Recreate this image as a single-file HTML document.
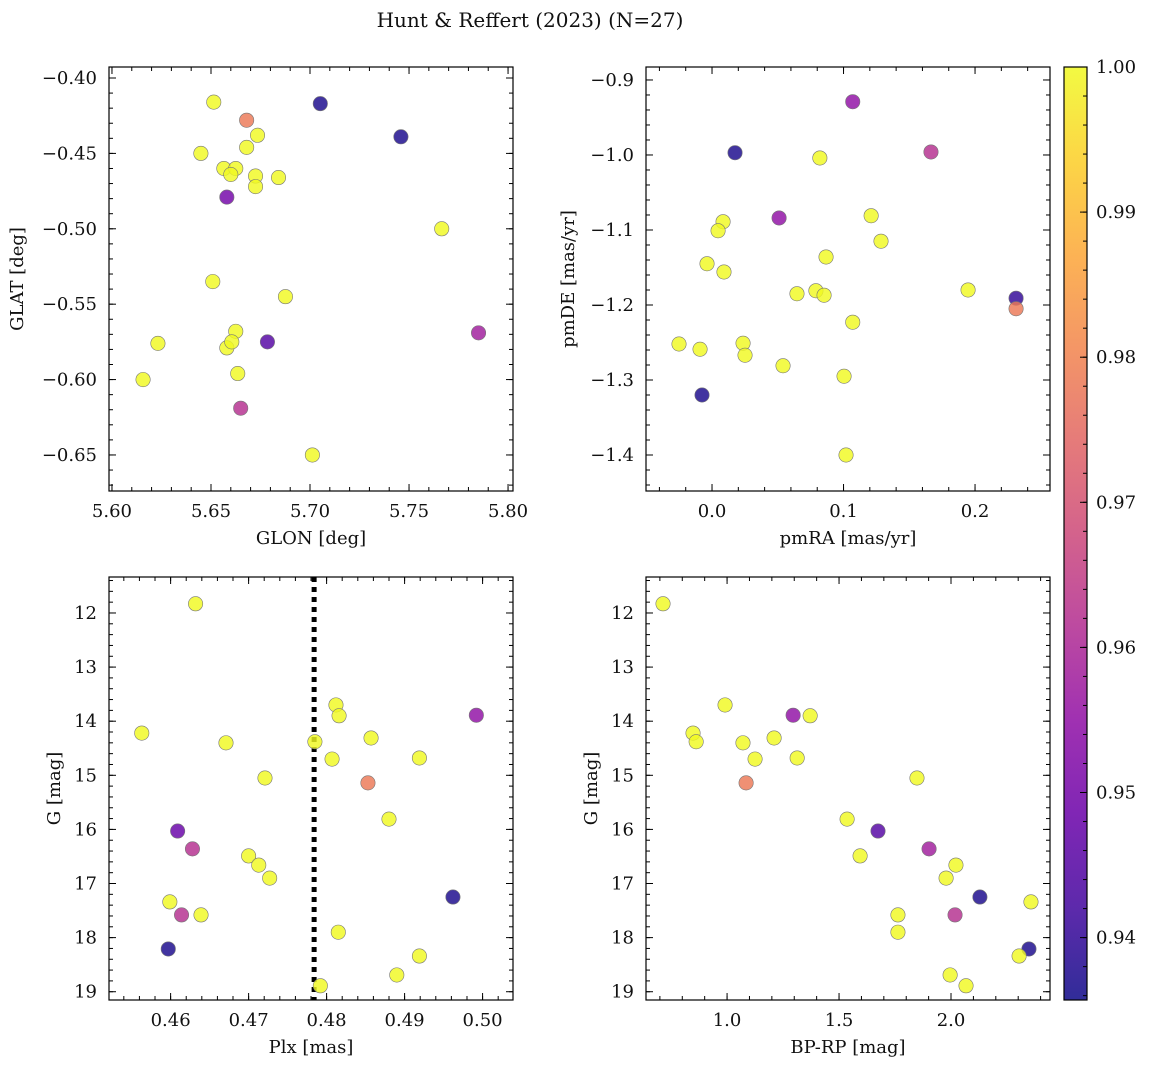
<!DOCTYPE html>
<html><head><meta charset="utf-8"><style>
html,body{margin:0;padding:0;background:#fff}
svg{display:block}
text{font-family:"DejaVu Serif","Liberation Serif",serif;fill:#111}
</style></head><body>
<svg id="fig" width="1149" height="1067" viewBox="0 0 1149 1067" xmlns="http://www.w3.org/2000/svg">
<defs>
<linearGradient id="plasma" x1="0" y1="1" x2="0" y2="0">
<stop offset="0" stop-color="#0d0887"/><stop offset="0.1" stop-color="#41049d"/><stop offset="0.2" stop-color="#6a00a8"/><stop offset="0.3" stop-color="#8f0da4"/><stop offset="0.4" stop-color="#b12a90"/><stop offset="0.5" stop-color="#cc4778"/><stop offset="0.6" stop-color="#e16462"/><stop offset="0.7" stop-color="#f2844b"/><stop offset="0.8" stop-color="#fca636"/><stop offset="0.9" stop-color="#fcce25"/><stop offset="1" stop-color="#f0f921"/>
</linearGradient>
</defs>
<text x="530" y="27" text-anchor="middle" font-size="20">Hunt &amp; Reffert (2023) (N=27)</text>
</svg>
<script>
// Panel 1: GLON vs GLAT
const glon1 = [5.6514,5.668,5.7052,5.7459,5.6735,5.668,5.6449,5.6565,5.6625,5.66,5.6725,5.6725,5.6841,5.658,5.7665,5.6509,5.6876,5.6625,5.6232,5.6785,5.658,5.6605,5.6635,5.6157,5.665,5.7012,5.7851];
const glat1 = [-0.416,-0.428,-0.417,-0.439,-0.438,-0.446,-0.450,-0.460,-0.460,-0.464,-0.465,-0.472,-0.466,-0.479,-0.500,-0.535,-0.545,-0.568,-0.576,-0.575,-0.579,-0.575,-0.596,-0.600,-0.619,-0.650,-0.569];
const prob1 = [1,0.978,0.937,0.937,1,1,1,1,1,1,1,1,1,0.95,1,1,1,1,1,0.945,1,1,1,1,0.962,1,0.958];
// Panel 2: pmRA vs pmDE
const pmra2 = [0.107,0.0175,0.1665,0.082,0.051,0.0084,0.0046,0.121,0.1285,0.0867,-0.0038,0.0091,0.1947,0.079,0.0646,0.0852,0.2312,0.2312,0.107,-0.0251,0.0236,-0.0091,0.0251,0.054,0.1004,-0.0076,0.1019];
const pmde2 = [-0.929,-0.997,-0.996,-1.004,-1.084,-1.089,-1.101,-1.081,-1.115,-1.136,-1.145,-1.156,-1.180,-1.181,-1.185,-1.187,-1.191,-1.205,-1.223,-1.252,-1.251,-1.259,-1.267,-1.281,-1.295,-1.320,-1.400];
const prob2 = [0.955,0.937,0.962,1,0.955,1,1,1,1,1,1,1,1,1,1,1,0.94,0.978,1,1,1,1,1,1,1,0.937,1];
// Panel 3: Plx vs G
const plx3 = [0.4632,0.4563,0.4671,0.4812,0.4816,0.4857,0.4785,0.4807,0.4721,0.4919,0.4853,0.4880,0.4609,0.4628,0.4700,0.4713,0.4727,0.4599,0.4614,0.4639,0.4962,0.4815,0.4597,0.4919,0.4890,0.4792,0.4992];
const g3 = [11.83,14.22,14.40,13.70,13.90,14.31,14.38,14.70,15.05,14.68,15.14,15.81,16.03,16.36,16.49,16.66,16.90,17.34,17.58,17.58,17.25,17.90,18.21,18.34,18.69,18.89,13.89];
const prob3 = [1,1,1,1,1,1,1,1,1,1,0.978,1,0.948,0.962,1,1,1,1,0.962,1,0.937,1,0.937,1,1,1,0.955];
const plxMean = 0.4784;
// Panel 4: BP-RP vs G
const bprp4 = [0.714,0.848,0.862,0.991,1.071,1.210,1.125,1.295,1.371,1.313,1.085,1.848,1.536,1.674,1.594,1.902,2.022,1.978,2.129,2.357,1.763,2.018,1.763,2.348,1.996,2.304,2.067];
const g4 = [11.83,14.22,14.38,13.70,14.40,14.31,14.70,13.89,13.90,14.68,15.14,15.05,15.81,16.03,16.49,16.36,16.66,16.90,17.25,17.34,17.58,17.58,17.90,18.21,18.69,18.34,18.89];
const prob4 = [1,1,1,1,1,1,1,0.955,1,1,0.978,1,1,0.945,1,0.958,1,1,0.937,1,1,0.962,1,0.937,1,1,1];
// Colorbar
const cbMin = 0.9357, cbMax = 1.0;
const cbTicks = [0.94,0.95,0.96,0.97,0.98,0.99,1.00];

const NS='http://www.w3.org/2000/svg';
const svg=document.getElementById('fig');
const FS=18;
function mk(tag,attrs,parent){const e=document.createElementNS(NS,tag);for(const k in attrs)e.setAttribute(k,attrs[k]);(parent||svg).appendChild(e);return e;}
const stops=[[0,[13,8,135]],[0.1,[65,4,157]],[0.2,[106,0,168]],[0.3,[143,13,164]],[0.4,[177,42,144]],[0.5,[204,71,120]],[0.6,[225,100,98]],[0.7,[242,132,75]],[0.8,[252,166,54]],[0.9,[252,206,37]],[1,[240,249,33]]];
function plasma(t){t=Math.max(0,Math.min(1,t));for(let i=1;i<stops.length;i++){if(t<=stops[i][0]){const a=stops[i-1],b=stops[i];const f=(t-a[0])/(b[0]-a[0]);const c=a[1].map((v,j)=>Math.round(v+(b[1][j]-v)*f));return `rgb(${c[0]},${c[1]},${c[2]})`;}}return 'rgb(240,249,33)';}
function fmt(v,d){const s=Math.abs(v).toFixed(d);return (v<-1e-9?'\u2212':'')+s;}

function panel(o){
  const g=mk('g',{});
  
  
  const sx=v=>o.L+(v-o.x0)/(o.x1-o.x0)*(o.R-o.L);
  const sy=o.invY?(v=>o.T+(v-o.y0)/(o.y1-o.y0)*(o.B-o.T)):(v=>o.B-(v-o.y0)/(o.y1-o.y0)*(o.B-o.T));
  const tg=mk('g',{stroke:'#000','stroke-width':1},g);
  function ticksX(step,len){const s=Math.ceil(Math.min(o.x0,o.x1)/step-1e-6);for(let k=s;k*step<=Math.max(o.x0,o.x1)+1e-9;k++){const x=sx(k*step);mk('line',{x1:x,x2:x,y1:o.B,y2:o.B-len},tg);mk('line',{x1:x,x2:x,y1:o.T,y2:o.T+len},tg);}}
  function ticksY(step,len){const lo=Math.min(o.y0,o.y1),hi=Math.max(o.y0,o.y1);const s=Math.ceil(lo/step-1e-6);for(let k=s;k*step<=hi+1e-9;k++){const y=sy(k*step);mk('line',{x1:o.L,x2:o.L+len,y1:y,y2:y},tg);mk('line',{x1:o.R,x2:o.R-len,y1:y,y2:y},tg);}}
  ticksX(o.xminor,4);ticksX(o.xmajor,7);ticksY(o.yminor,4);ticksY(o.ymajor,7);
  const lo=Math.min(o.x0,o.x1),hi=Math.max(o.x0,o.x1);
  for(let k=Math.ceil(lo/o.xmajor-1e-6);k*o.xmajor<=hi+1e-9;k++){const v=k*o.xmajor;const t=mk('text',{x:sx(v),y:o.B+26,'text-anchor':'middle','font-size':FS},g);t.textContent=fmt(v,o.xd);}
  const ylo=Math.min(o.y0,o.y1),yhi=Math.max(o.y0,o.y1);
  for(let k=Math.ceil(ylo/o.ymajor-1e-6);k*o.ymajor<=yhi+1e-9;k++){const v=k*o.ymajor;const t=mk('text',{x:o.L-12,y:sy(v)+6,'text-anchor':'end','font-size':FS},g);t.textContent=fmt(v,o.yd);}
  const xl=mk('text',{x:(o.L+o.R)/2,y:o.B+53,'text-anchor':'middle','font-size':FS},g);xl.textContent=o.xlabel;
  
  const yx=o.ylx,yc=(o.T+o.B)/2;
  const yl=mk('text',{x:yx,y:yc,'text-anchor':'middle','font-size':FS,transform:`rotate(-90 ${yx} ${yc})`},g);yl.textContent=o.ylabel;
  
  if(o.vline!==undefined){const l=mk('line',{x1:sx(o.vline),x2:sx(o.vline),y1:o.T,y2:o.B,stroke:'#000','stroke-width':5,'stroke-dasharray':'5,5'},g);}
  const clip='clip'+o.name;const cp=mk('clipPath',{id:clip},g);mk('rect',{x:o.L,y:o.T,width:o.R-o.L,height:o.B-o.T},cp);
  const pg=mk('g',{'clip-path':`url(#${clip})`},g);
  for(let i=0;i<o.xs.length;i++){const c=mk('circle',{cx:sx(o.xs[i]),cy:sy(o.ys[i]),r:7.2,fill:plasma((o.ps[i]-cbMin)/(cbMax-cbMin)),'fill-opacity':0.82,stroke:'#777','stroke-width':0.6},pg);
    
    }
  const fr=mk('rect',{x:o.L,y:o.T,width:o.R-o.L,height:o.B-o.T,fill:'none',stroke:'#000','stroke-width':1.2},g);
  
}
panel({name:'panel-glon-glat',L:109,R:513,T:67,B:491,x0:5.5985,x1:5.8025,y0:-0.6739,y1:-0.3927,xmajor:0.05,xminor:0.01,ymajor:0.05,yminor:0.01,xd:2,yd:2,xlabel:'GLON [deg]',ylabel:'GLAT [deg]',ylx:23,xs:glon1,ys:glat1,ps:prob1});
panel({name:'panel-pm',L:646,R:1050,T:67,B:491,x0:-0.0502,x1:0.257,y0:-1.448,y1:-0.8827,xmajor:0.1,xminor:0.02,ymajor:0.1,yminor:0.02,xd:1,yd:1,xlabel:'pmRA [mas/yr]',ylabel:'pmDE [mas/yr]',ylx:574,xs:pmra2,ys:pmde2,ps:prob2});
panel({name:'panel-plx-g',L:109,R:513,T:577,B:1000,x0:0.4521,x1:0.5039,y0:11.335,y1:19.153,invY:true,xmajor:0.01,xminor:0.002,ymajor:1,yminor:0.2,xd:2,yd:0,xlabel:'Plx [mas]',ylabel:'G [mag]',ylx:60,xs:plx3,ys:g3,ps:prob3,vline:plxMean});
panel({name:'panel-cmd',L:646,R:1050,T:577,B:1000,x0:0.638,x1:2.442,y0:11.335,y1:19.153,invY:true,xmajor:0.5,xminor:0.1,ymajor:1,yminor:0.2,xd:1,yd:0,xlabel:'BP-RP [mag]',ylabel:'G [mag]',ylx:597,xs:bprp4,ys:g4,ps:prob4});

const cb=mk('g',{});


const CL=1064,CR=1087,CT=67,CB=1000;
const cy=v=>CB-(v-cbMin)/(cbMax-cbMin)*(CB-CT);
mk('rect',{x:CL,y:CT,width:CR-CL,height:CB-CT,fill:'url(#plasma)','fill-opacity':0.85},cb);
for(let k=Math.ceil(cbMin/0.002);k*0.002<=cbMax+1e-9;k++){const y=cy(k*0.002);mk('line',{x1:CR,x2:CR-4,y1:y,y2:y,stroke:'#000'},cb);}
cbTicks.forEach(v=>{const y=cy(v);mk('line',{x1:CR,x2:CR-7,y1:y,y2:y,stroke:'#000'},cb);const t=mk('text',{x:CR+9,y:y+6,'font-size':FS},cb);t.textContent=v.toFixed(2);});
mk('rect',{x:CL,y:CT,width:CR-CL,height:CB-CT,fill:'none',stroke:'#000','stroke-width':1.2},cb);
</script>
</body></html>
